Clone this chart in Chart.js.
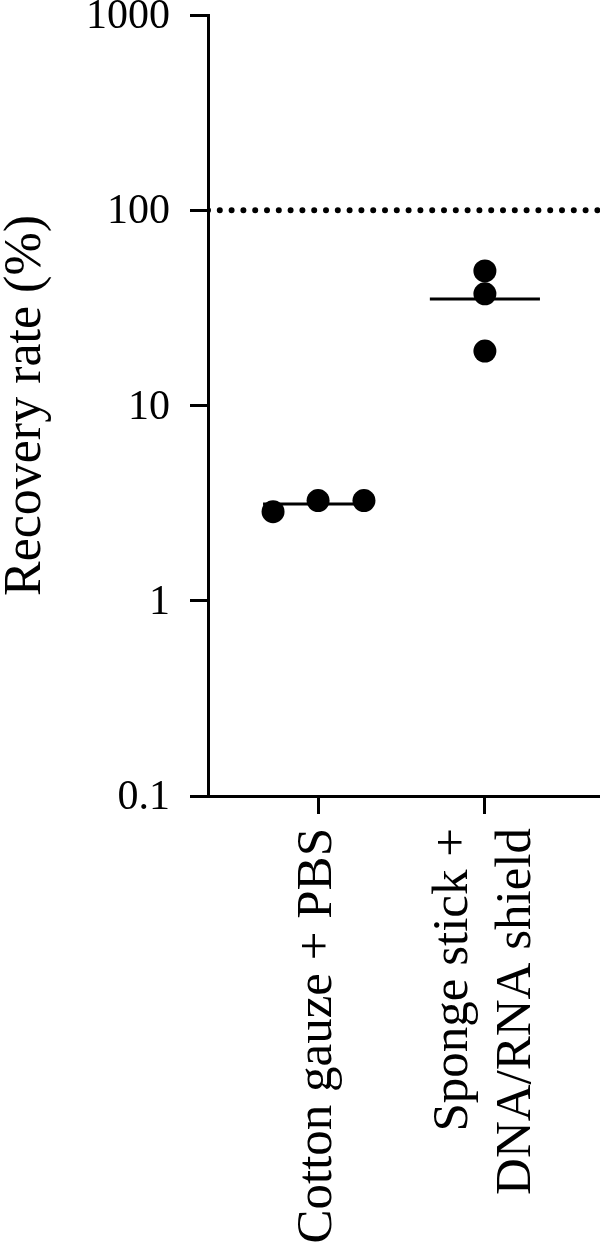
<!DOCTYPE html>
<html>
<head>
<meta charset="utf-8">
<script src="https://cdn.jsdelivr.net/npm/chart.js@4/dist/chart.umd.min.js"></script>
<style>
  html, body { margin: 0; padding: 0; background: #fff; }
  #wrap { width: 600px; height: 1247px; }
</style>
</head>
<body>
<div id="wrap"><canvas id="chart"></canvas></div>
<script>
// groups on the x axis (position 1 and 2)
const groupLabels = [["Cotton gauze + PBS"], ["Sponge stick +", "DNA/RNA shield"]];
const groupPositions = [1, 2];

// recovery rate (%) per replicate
const cottonValues = [2.86, 3.26, 3.26];
const spongeValues = [48.9, 37.3, 19.0];
// horizontal spread of the dots inside a group
const cottonJitter = [-0.27, 0, 0.275];
const spongeJitter = [0, 0, 0];
// group means
const meanValues = [3.13, 35.1];
const meanHalfWidth = 0.33;

// reference line (100 %)
const referenceValue = 100;

const yTicks = [0.1, 1, 10, 100, 1000];
const yTickLabels = ["0.1", "1", "10", "100", "1000"];

const xMin = 0.34;
const xMax = 2.69;

const fontFamily = "'Liberation Serif', 'Times New Roman', serif";

function groupPoints(values, jitter, pos) {
  return values.map((v, i) => ({ x: pos + jitter[i], y: v }));
}

function meanSegment(index) {
  const pos = groupPositions[index];
  return [
    { x: pos - meanHalfWidth, y: meanValues[index] },
    { x: pos + meanHalfWidth, y: meanValues[index] },
  ];
}

// draws the rotated x labels, multi-line centred on the tick
const xLabelPlugin = {
  id: "xLabels",
  afterDraw(chart) {
    const { ctx, scales } = chart;
    const xScale = scales.x;
    const top = chart.chartArea.bottom + 32;
    const lineHeight = 63;

    ctx.save();
    ctx.fillStyle = "#000";
    ctx.font = `51px ${fontFamily}`;
    ctx.textAlign = "right";
    ctx.textBaseline = "middle";
    groupLabels.forEach((lines, i) => {
      const center = xScale.getPixelForValue(groupPositions[i]);
      lines.forEach((line, j) => {
        const x = center + (j - (lines.length - 1) / 2) * lineHeight;
        ctx.save();
        ctx.translate(x, top);
        ctx.rotate(-Math.PI / 2);
        ctx.fillText(line, 0, 0);
        ctx.restore();
      });
    });
    ctx.restore();
  },
};

new Chart(document.querySelector("#chart"), {
  type: "scatter",
  data: {
    datasets: [
      {
        data: [
          { x: xMin, y: referenceValue },
          { x: xMax, y: referenceValue },
        ],
        showLine: true,
        borderColor: "#000",
        borderWidth: 6,
        borderDash: [0, 11.8],
        borderCapStyle: "round",
        pointRadius: 0,
      },
      {
        data: meanSegment(0),
        showLine: true,
        borderColor: "#000",
        borderWidth: 3,
        pointRadius: 0,
      },
      {
        data: meanSegment(1),
        showLine: true,
        borderColor: "#000",
        borderWidth: 3,
        pointRadius: 0,
      },
      {
        data: [
          ...groupPoints(cottonValues, cottonJitter, groupPositions[0]),
          ...groupPoints(spongeValues, spongeJitter, groupPositions[1]),
        ],
        backgroundColor: "#000",
        borderColor: "#000",
        pointRadius: 11.5,
        pointBorderWidth: 0,
      },
    ],
  },
  options: {
    responsive: true,
    maintainAspectRatio: false,
    animation: false,
    layout: {
      autoPadding: false,
      padding: { top: 15, right: 0, bottom: 0, left: 0 },
    },
    plugins: {
      legend: { display: false },
      tooltip: { enabled: false },
    },
    scales: {
      x: {
        type: "linear",
        min: xMin,
        max: xMax,
        afterBuildTicks: (scale) => {
          scale.ticks = groupPositions.map((v) => ({ value: v }));
        },
        afterFit: (scale) => {
          scale.height = 451;
          scale.paddingLeft = 0;
          scale.paddingRight = 0;
        },
        ticks: { display: false },
        grid: {
          display: true,
          drawOnChartArea: false,
          drawTicks: true,
          tickLength: 18,
          color: "#000",
          lineWidth: 3,
        },
        border: { display: true, color: "#000", width: 3 },
      },
      y: {
        type: "logarithmic",
        min: 0.1,
        max: 1000,
        afterBuildTicks: (scale) => {
          scale.ticks = yTicks.map((v) => ({ value: v }));
        },
        afterFit: (scale) => {
          scale.width = 208;
          scale.paddingTop = 0;
          scale.paddingBottom = 0;
        },
        ticks: {
          color: "#000",
          padding: 20,
          labelOffset: 2,
          font: { family: fontFamily, size: 42 },
          callback: (value, index) => yTickLabels[index],
        },
        grid: {
          display: true,
          drawOnChartArea: false,
          drawTicks: true,
          tickLength: 18,
          color: "#000",
          lineWidth: 3,
        },
        border: { display: true, color: "#000", width: 3 },
        title: {
          display: true,
          text: "Recovery rate (%)",
          color: "#000",
          padding: 0,
          font: { family: fontFamily, size: 52, lineHeight: 1 },
        },
      },
    },
  },
  plugins: [xLabelPlugin],
});
</script>
</body>
</html>
